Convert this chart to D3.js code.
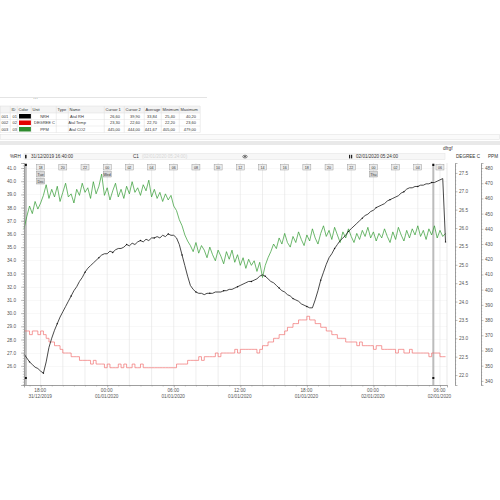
<!DOCTYPE html>
<html>
<head>
<meta charset="utf-8">
<script src="https://cdn.jsdelivr.net/npm/d3@7"></script>
<style>
  body { margin: 0; background: #fff; }
  svg { display: block; font-family: "Liberation Sans", Arial, sans-serif; }
</style>
</head>
<body>
<svg width="500" height="500"></svg>
<script>
// samples every 15 min from 31/12/2019 16:30
var startTime = new Date(2019, 11, 31, 16, 30);
var stepMinutes = 15;

var rhValues = [
  26.9, 26.6, 26.3, 26.1, 25.9, 25.8, 25.6, 25.45, 26.3, 27.4,
  28.1, 28.7, 29.2, 29.7, 30.1, 30.5, 30.9, 31.3, 31.7, 32.0,
  32.4, 32.7, 33.1, 33.4, 33.6, 33.8, 34.0, 34.2, 34.4, 34.5,
  34.5, 34.7, 34.6, 34.8, 34.9, 34.9, 35.0, 35.2, 35.1, 35.3,
  35.2, 35.4, 35.5, 35.4, 35.6, 35.5, 35.7, 35.7, 35.8, 35.7,
  35.9, 35.8, 36.0, 35.9, 35.9, 35.7, 35.2, 34.4, 33.6, 32.8,
  32.1, 31.8, 31.6, 31.5, 31.5, 31.4, 31.5, 31.5, 31.5, 31.6,
  31.6, 31.6, 31.7, 31.7, 31.8, 31.8, 31.9, 32.0, 32.1, 32.2,
  32.3, 32.4, 32.4, 32.5, 32.6, 32.8, 32.9, 32.8, 32.6, 32.4,
  32.3, 32.1, 31.9, 31.7, 31.6, 31.4, 31.3, 31.1, 31.0, 30.9,
  30.7, 30.6, 30.5, 30.4, 30.4, 31.0, 31.7, 32.5, 33.1, 33.7,
  34.2, 34.5, 34.9, 35.2, 35.5, 35.7, 35.9, 36.2, 36.4, 36.6,
  36.8, 37.0, 37.2, 37.4, 37.5, 37.7, 37.8, 38.0, 38.1, 38.2,
  38.3, 38.5, 38.6, 38.7, 38.8, 38.9, 39.1, 39.2, 39.4, 39.5,
  39.5, 39.6, 39.6, 39.7, 39.7, 39.8, 39.8, 39.9, 39.9, 40.0,
  40.1, 40.2, 35.4
];

var tempValues = [
  23.2, 23.2, 23.1, 23.2, 23.2, 23.1, 23.2, 23.1, 23.0, 22.9,
  22.9, 22.8, 22.8, 22.7, 22.6, 22.6, 22.6, 22.5, 22.5, 22.5,
  22.4, 22.4, 22.4, 22.4, 22.3, 22.4, 22.3, 22.3, 22.3, 22.2,
  22.3, 22.2, 22.2, 22.2, 22.3, 22.2, 22.3, 22.2, 22.2, 22.3,
  22.2, 22.2, 22.3, 22.2, 22.2, 22.2, 22.2, 22.2, 22.2, 22.2,
  22.2, 22.2, 22.2, 22.2, 22.2, 22.3, 22.3, 22.3, 22.3, 22.4,
  22.4, 22.4, 22.4, 22.5, 22.4, 22.5, 22.5, 22.5, 22.5, 22.6,
  22.5, 22.6, 22.6, 22.6, 22.6, 22.6, 22.7, 22.6, 22.7, 22.7,
  22.7, 22.7, 22.7, 22.7, 22.6, 22.7, 22.8, 22.8, 22.9, 22.9,
  23.0, 23.0, 23.1, 23.1, 23.2, 23.3, 23.3, 23.4, 23.4, 23.5,
  23.5, 23.5, 23.6, 23.5, 23.5, 23.4, 23.4, 23.3, 23.3, 23.2,
  23.2, 23.1, 23.1, 23.0, 23.0, 23.0, 22.9, 22.9, 22.9, 22.9,
  22.8, 22.9, 22.8, 22.8, 22.8, 22.8, 22.7, 22.8, 22.8, 22.7,
  22.7, 22.7, 22.7, 22.7, 22.6, 22.7, 22.7, 22.6, 22.6, 22.7,
  22.6, 22.6, 22.6, 22.6, 22.6, 22.6, 22.5, 22.6, 22.6, 22.6,
  22.5, 22.5, 22.5
];

var co2Values = [
  440, 448, 455, 450, 458, 453, 457, 462, 469, 460,
  466, 461, 468, 458, 464, 470, 461, 463, 457, 466,
  462, 470, 464, 467, 460, 471, 463, 468, 476, 462,
  467, 459, 465, 470, 461, 466, 460, 468, 463, 471,
  464, 467, 462, 469, 465, 472, 461, 466, 460, 464,
  458, 463, 459, 462, 455, 452, 446, 442, 436, 432,
  429, 425, 431, 424, 429, 426, 421, 428, 423, 419,
  426, 422, 417, 425, 420, 426, 418, 423, 416, 421,
  414, 420, 416, 419, 412, 418, 408, 416, 421, 425,
  430, 427, 434, 430, 437, 431, 428, 435, 431, 438,
  433, 429, 436, 432, 440, 434, 430, 437, 442, 435,
  439, 433, 441, 436, 431, 438, 434, 440, 435, 431,
  437, 433, 439, 435, 441, 434, 438, 432, 437, 434,
  440, 435, 431, 438, 433, 441, 436, 432, 439, 434,
  440, 436, 442, 435, 439, 433, 440, 436, 442, 434,
  439, 435, 437
];

var tableHeaders = ["", "ID", "Color", "Unit", "Type", "Name", "Cursor 1", "Cursor 2", "Average", "Minimum", "Maximum"];
var rowNumbers = ["001", "002", "003"];
var channelIds = ["01", "02", "03"];
var channelColors = ["#000000", "#e30000", "#2e8b2e"];
var channelUnits = ["NRH", "DEGREE C", "PPM"];
var channelNames = ["Atal RH", "Atal Temp", "Atal CO2"];
var cursor1Values = ["26,60", "23,30", "445,00"];
var cursor2Values = ["39,90", "22,60", "444,00"];
var averageValues = ["33,84", "22,70", "441,67"];
var minimumValues = ["25,40", "22,20", "405,00"];
var maximumValues = ["40,20", "23,60", "479,00"];

var cursorTimes = [new Date(2019, 11, 31, 16, 40), new Date(2020, 0, 2, 5, 24)];
var markerNotes = { 0: ["Tue", "Dec"], 3: ["Wed"], 15: ["Thu"] };
var chartTitle = "dfrgf";

var svg = d3.select("svg");
var plot = { left: 24, right: 447, top: 163, bottom: 385 };

var x = d3.scaleTime()
    .domain([new Date(2019, 11, 31, 16, 30), new Date(2020, 0, 2, 6, 38)])
    .range([plot.left, plot.right]);
var yRH = d3.scaleLinear().domain([24.55, 41.38]).range([plot.bottom, plot.top]);
var yT = d3.scaleLinear().domain([21.73, 27.77]).range([plot.bottom, plot.top]);
var yPPM = d3.scaleLinear().domain([337.3, 483.3]).range([plot.bottom, plot.top]);

function timeAt(i) { return d3.timeMinute.offset(startTime, i * stepMinutes); }

// ---- top strip + table ----
svg.append("line").attr("x1", 0).attr("x2", 207).attr("y1", 97.5).attr("y2", 97.5)
    .attr("stroke", "#e4e4e4");
svg.append("text").attr("x", 33).attr("y", 99).attr("font-size", 5).attr("fill", "#333").text("\u2026");

var colEdges = [0, 10, 17, 31, 56, 68, 104, 124, 144, 161, 179, 200];
var tableTop = 106, headH = 7, rowH = 6.5;
var table = svg.append("g").attr("font-size", 4).attr("fill", "#333");

table.append("rect").attr("x", 0).attr("y", tableTop).attr("width", 200).attr("height", headH)
    .attr("fill", "#f4f4f4");
tableHeaders.forEach(function(h, i) {
  table.append("text").attr("x", colEdges[i] + 1.5).attr("y", tableTop + 5).text(h);
});

var valueCols = [cursor1Values, cursor2Values, averageValues, minimumValues, maximumValues];
rowNumbers.forEach(function(n, r) {
  var top = tableTop + headH + r * rowH;
  var mid = top + 4.5;
  table.append("text").attr("x", 1.5).attr("y", mid).text(n);
  table.append("text").attr("x", colEdges[1] + 2.5).attr("y", mid).text(channelIds[r]);
  table.append("rect").attr("x", colEdges[2] + 2).attr("y", top + 1).attr("width", 12).attr("height", rowH - 2)
      .attr("fill", channelColors[r]);
  table.append("text").attr("x", (colEdges[3] + colEdges[4]) / 2 + 1).attr("y", mid)
      .attr("text-anchor", "middle").text(channelUnits[r]);
  table.append("text").attr("x", 77).attr("y", mid).attr("text-anchor", "middle").text(channelNames[r]);
  valueCols.forEach(function(vals, k) {
    table.append("text").attr("x", colEdges[k + 7] - 4).attr("y", mid)
        .attr("text-anchor", "end").text(vals[r]);
  });
  table.append("line").attr("x1", 0).attr("x2", 200).attr("y1", top + rowH).attr("y2", top + rowH)
      .attr("stroke", "#e2e2e2").attr("stroke-width", 0.5);
});
colEdges.forEach(function(e) {
  table.append("line").attr("x1", e + 0.25).attr("x2", e + 0.25)
      .attr("y1", tableTop).attr("y2", tableTop + headH + 3 * rowH)
      .attr("stroke", "#dcdcdc").attr("stroke-width", 0.5);
});
table.append("line").attr("x1", 0).attr("x2", 200).attr("y1", tableTop).attr("y2", tableTop)
    .attr("stroke", "#dcdcdc").attr("stroke-width", 0.5);
table.append("line").attr("x1", 0).attr("x2", 200).attr("y1", tableTop + headH).attr("y2", tableTop + headH)
    .attr("stroke", "#dcdcdc").attr("stroke-width", 0.5);

// scroll strip under table
svg.append("rect").attr("x", 0.5).attr("y", 134.5).attr("width", 499).attr("height", 5)
    .attr("fill", "#fafafa").attr("stroke", "#e0e0e0").attr("stroke-width", 0.5);

// separator band
svg.append("rect").attr("x", 0).attr("y", 141).attr("width", 500).attr("height", 4).attr("fill", "#e9e9e9");
svg.append("text").attr("x", 443).attr("y", 149.5).attr("font-size", 4.8).attr("fill", "#333").text(chartTitle);

// ---- toolbar ----
var fmtFull = d3.timeFormat("%d/%m/%Y %H:%M:%S");
svg.append("rect").attr("x", plot.left).attr("y", 153.5).attr("width", plot.right - plot.left - 2).attr("height", 6)
    .attr("fill", "#f7f7f7").attr("stroke", "#e2e2e2").attr("stroke-width", 0.5);
svg.append("text").attr("x", 10).attr("y", 158.3).attr("font-size", 4.6).attr("fill", "#333").text("%RH");
svg.append("rect").attr("x", 25).attr("y", 154.8).attr("width", 1.6).attr("height", 3.6).attr("fill", "#222");
svg.append("text").attr("x", 31).attr("y", 158.3).attr("font-size", 4.6).attr("fill", "#333").text(fmtFull(cursorTimes[0]));
svg.append("text").attr("x", 133).attr("y", 158.3).attr("font-size", 4.6).attr("fill", "#333").text("C1");
svg.append("text").attr("x", 142).attr("y", 158.3).attr("font-size", 4.6).attr("fill", "#d6d6d6")
    .text("(" + fmtFull(cursorTimes[1]) + ")");
svg.append("ellipse").attr("cx", 245).attr("cy", 156.6).attr("rx", 2.2).attr("ry", 1.4)
    .attr("fill", "none").attr("stroke", "#333").attr("stroke-width", 0.6);
svg.append("circle").attr("cx", 245).attr("cy", 156.6).attr("r", 0.8).attr("fill", "#333");
svg.append("rect").attr("x", 349).attr("y", 154.8).attr("width", 1.2).attr("height", 3.6).attr("fill", "#222");
svg.append("rect").attr("x", 351).attr("y", 154.8).attr("width", 1.2).attr("height", 3.6).attr("fill", "#222");
svg.append("text").attr("x", 356).attr("y", 158.3).attr("font-size", 4.6).attr("fill", "#333").text(fmtFull(cursorTimes[1]));
svg.append("text").attr("x", 456).attr("y", 158.3).attr("font-size", 4.6).attr("fill", "#333").text("DEGREE C");
svg.append("text").attr("x", 488).attr("y", 158.3).attr("font-size", 4.6).attr("fill", "#333").text("PPM");

// ---- grid ----
var markerTimes = d3.timeHour.every(2).range(new Date(2019, 11, 31, 18), new Date(2020, 0, 2, 6, 1));
var grid = svg.append("g");
grid.selectAll(".hgrid").data(d3.range(26, 41.01, 1)).enter().append("line")
    .attr("x1", plot.left).attr("x2", plot.right)
    .attr("y1", function(d) { return Math.round(yRH(d)) + 0.5; })
    .attr("y2", function(d) { return Math.round(yRH(d)) + 0.5; })
    .attr("stroke", "#f0f0f0").attr("stroke-width", 0.5);
grid.selectAll(".vgrid").data(markerTimes).enter().append("line")
    .attr("x1", function(d) { return x(d); }).attr("x2", function(d) { return x(d); })
    .attr("y1", plot.top).attr("y2", plot.bottom)
    .attr("stroke", "#e3e3e3").attr("stroke-width", 0.6);
svg.append("line").attr("x1", plot.right).attr("x2", plot.right).attr("y1", plot.top).attr("y2", plot.bottom)
    .attr("stroke", "#d0d0d0").attr("stroke-width", 0.5);

// ---- cursors ----
svg.selectAll(".cursor").data(cursorTimes).enter().append("rect")
    .attr("x", function(d) { return x(d) - 1; }).attr("y", plot.top)
    .attr("width", 2).attr("height", plot.bottom - plot.top)
    .attr("fill", "#bcbcbc");

// ---- series ----
var lineRH = d3.line().x(function(d, i) { return x(timeAt(i)); }).y(function(d) { return yRH(d); });
var lineT = d3.line().curve(d3.curveStepAfter)
    .x(function(d, i) { return x(timeAt(i)); }).y(function(d) { return yT(d); });
var lineCO2 = d3.line().x(function(d, i) { return x(timeAt(i)); }).y(function(d) { return yPPM(d); });

svg.append("path").attr("d", lineT(tempValues)).attr("fill", "none")
    .attr("stroke", "#f07070").attr("stroke-width", 0.7);
svg.append("path").attr("d", lineCO2(co2Values)).attr("fill", "none")
    .attr("stroke", "#2f9a2f").attr("stroke-width", 0.7);
svg.append("path").attr("d", lineRH(rhValues)).attr("fill", "none")
    .attr("stroke", "#1a1a1a").attr("stroke-width", 0.8);
svg.selectAll(".rhdot").data(rhValues).enter().filter(function(d, i) { return i % 5 === 2; })
    .append("circle")
    .attr("cx", function(d, i) { return x(timeAt(i * 5 + 2)); })
    .attr("cy", function(d) { return yRH(d); })
    .attr("r", 0.7).attr("fill", "#111");

// cursor end marks
cursorTimes.forEach(function(t) {
  svg.append("rect").attr("x", x(t) - 1).attr("y", plot.top + 1).attr("width", 2).attr("height", 2).attr("fill", "#111");
  svg.append("rect").attr("x", x(t) - 1).attr("y", plot.bottom - 8).attr("width", 2).attr("height", 2).attr("fill", "#111");
});

// ---- event markers ----
var fmtHour = d3.timeFormat("%H");
var markers = svg.append("g").attr("font-size", 3.6).attr("fill", "#333");
markerTimes.forEach(function(t, k) {
  var labels = [fmtHour(t)].concat(markerNotes[k] || []);
  labels.forEach(function(lab, j) {
    var cy = plot.top + 1.5 + j * 7;
    markers.append("rect").attr("x", x(t) - 4).attr("y", cy).attr("width", 8).attr("height", 5.5)
        .attr("fill", j === 0 ? "#ececec" : "#d8d8d8").attr("stroke", "#8a8a8a").attr("stroke-width", 0.4);
    markers.append("text").attr("x", x(t)).attr("y", cy + 4.1).attr("text-anchor", "middle").text(lab);
  });
});

// ---- axes ----
function styleAxis(g) {
  g.select(".domain").attr("stroke", "#8c8c8c").attr("stroke-width", 0.6);
  g.selectAll(".tick line").attr("stroke", "#8c8c8c").attr("stroke-width", 0.5);
  g.selectAll("text").attr("fill", "#555").attr("font-size", 4.7)
      .attr("font-family", "'Liberation Sans', Arial, sans-serif");
}

var fmt1 = d3.format(".1f");
svg.append("g").attr("transform", "translate(" + plot.left + ",0)")
    .call(d3.axisLeft(yRH).tickValues(d3.range(24.6, 41.3, 0.2)).tickSize(1.2).tickFormat(""))
    .call(styleAxis);
svg.append("g").attr("transform", "translate(" + plot.left + ",0)")
    .call(d3.axisLeft(yRH).tickValues(d3.range(26, 41.01, 1)).tickSize(3).tickPadding(5).tickFormat(fmt1))
    .call(styleAxis);

svg.append("g").attr("transform", "translate(455,0)")
    .call(d3.axisRight(yT).tickValues(d3.range(21.8, 27.75, 0.1)).tickSize(1.2).tickFormat(""))
    .call(styleAxis);
svg.append("g").attr("transform", "translate(455,0)")
    .call(d3.axisRight(yT).tickValues(d3.range(22, 27.51, 0.5)).tickSize(2.5).tickPadding(1.5).tickFormat(fmt1))
    .call(styleAxis);

svg.append("g").attr("transform", "translate(481,0)")
    .call(d3.axisRight(yPPM).tickValues(d3.range(338, 483, 2)).tickSize(1.2).tickFormat(""))
    .call(styleAxis);
svg.append("g").attr("transform", "translate(481,0)")
    .call(d3.axisRight(yPPM).tickValues(d3.range(340, 480.1, 10)).tickSize(2.5).tickPadding(1.5).tickFormat(d3.format("d")))
    .call(styleAxis);

svg.append("g").attr("transform", "translate(0," + plot.bottom + ")")
    .call(d3.axisBottom(x).ticks(d3.timeHour.every(1)).tickSize(1.5).tickFormat(""))
    .call(styleAxis);
var fmtHM = d3.timeFormat("%H:%M"), fmtDate = d3.timeFormat("%d/%m/%Y");
var xAxis = svg.append("g").attr("transform", "translate(0," + plot.bottom + ")")
    .call(d3.axisBottom(x).ticks(d3.timeHour.every(6)).tickSize(2.5).tickPadding(2).tickFormat(""))
    .call(styleAxis);
xAxis.selectAll(".tick").each(function(t) {
  var txt = d3.select(this).append("text").attr("fill", "#555").attr("font-size", 4.7)
      .attr("text-anchor", "middle").attr("y", 7);
  txt.append("tspan").attr("x", -1).text(fmtHM(t));
  txt.append("tspan").attr("x", -1).attr("dy", 5.5).text(fmtDate(t));
});
</script>
</body>
</html>
